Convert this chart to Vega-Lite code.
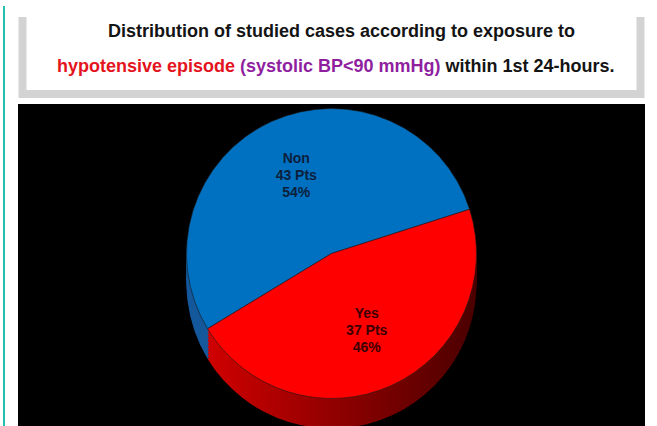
{
  "$schema": "https://vega.github.io/schema/vega-lite/v6.json",
  "background": "white",
  "padding": {"left": 3, "top": 0, "right": 0, "bottom": 0},
  "config": {
    "view": {"stroke": null},
    "font": "Liberation Sans",
    "text": {"font": "Liberation Sans", "fontWeight": "bold"}
  },
  "datasets": {
    "cases": [
      {"group": "Non", "patients": 43},
      {"group": "Yes", "patients": 37}
    ]
  },
  "bounds": "flush",
  "spacing": 13,
  "hconcat": [
    {
      "width": 2,
      "height": 426,
      "view": {"fill": "#22bfae", "stroke": null},
      "data": {"values": [{}]},
      "mark": {"type": "text", "text": ""}
    },
    {
      "bounds": "flush",
      "spacing": 10,
      "center": true,
      "vconcat": [
        {
          "width": 10,
          "height": 1,
          "data": {"values": [{}]},
          "mark": {"type": "text", "text": ""}
        },
        {
          "width": 618,
          "height": 77,
          "view": {"fill": "white", "stroke": "#d3d3d3", "strokeWidth": 8, "strokeDash": [0, 618, 772, 0]},
          "data": {"values": [{}]},
          "layer": [
            {"mark": {"type": "text", "text": "Distribution of studied cases according to exposure to", "fontSize": 18, "align": "center", "baseline": "alphabetic", "dx": 10, "dy": -18.5, "color": "#141414"}},
            {"mark": {"type": "text", "text": "hypotensive episode", "fontSize": 18, "align": "left", "baseline": "alphabetic", "dx": -274.5, "dy": 16.5, "color": "#e4141e"}},
            {"mark": {"type": "text", "text": "(systolic BP<90 mmHg)", "fontSize": 18, "align": "left", "baseline": "alphabetic", "dx": -91.5, "dy": 16.5, "color": "#8f1f9f"}},
            {"mark": {"type": "text", "text": "within 1st 24-hours.", "fontSize": 18, "align": "left", "baseline": "alphabetic", "dx": 114, "dy": 16.5, "color": "#141414"}}
          ]
        },
        {
          "width": 627,
          "height": 327,
          "view": {"fill": "black", "stroke": null},
          "data": {"name": "cases"},
          "transform": [
            {"joinaggregate": [{"op": "sum", "field": "patients", "as": "total"}]},
            {"calculate": "datum.patients + ' Pts'", "as": "count_label"},
            {"calculate": "format(datum.patients / datum.total, '.0%')", "as": "share_label"}
          ],
          "encoding": {
            "theta": {"field": "patients", "type": "quantitative", "stack": true, "scale": {"range": [-2.116, 4.167]}},
            "order": {"field": "group", "type": "ordinal", "sort": "ascending"}
          },
          "layer": [
            {"mark": {"type": "arc", "radius": 145, "yOffset": 16}, "encoding": {"fill": {"condition": {"test": "datum.group === 'Yes'", "value": {"gradient": "linear", "x1": 0, "y1": 0, "x2": 1, "y2": 0, "stops": [{"offset": 0, "color": "#d00000"}, {"offset": 1, "color": "#4a0000"}]}}, "value": "#15599c"}}},
            {"mark": {"type": "arc", "radius": 145, "yOffset": 13}, "encoding": {"fill": {"condition": {"test": "datum.group === 'Yes'", "value": {"gradient": "linear", "x1": 0, "y1": 0, "x2": 1, "y2": 0, "stops": [{"offset": 0, "color": "#d00000"}, {"offset": 1, "color": "#4a0000"}]}}, "value": "#15599c"}}},
            {"mark": {"type": "arc", "radius": 145, "yOffset": 10}, "encoding": {"fill": {"condition": {"test": "datum.group === 'Yes'", "value": {"gradient": "linear", "x1": 0, "y1": 0, "x2": 1, "y2": 0, "stops": [{"offset": 0, "color": "#d00000"}, {"offset": 1, "color": "#4a0000"}]}}, "value": "#15599c"}}},
            {"mark": {"type": "arc", "radius": 145, "yOffset": 7}, "encoding": {"fill": {"condition": {"test": "datum.group === 'Yes'", "value": {"gradient": "linear", "x1": 0, "y1": 0, "x2": 1, "y2": 0, "stops": [{"offset": 0, "color": "#d00000"}, {"offset": 1, "color": "#4a0000"}]}}, "value": "#15599c"}}},
            {"mark": {"type": "arc", "radius": 145, "yOffset": 4}, "encoding": {"fill": {"condition": {"test": "datum.group === 'Yes'", "value": {"gradient": "linear", "x1": 0, "y1": 0, "x2": 1, "y2": 0, "stops": [{"offset": 0, "color": "#d00000"}, {"offset": 1, "color": "#4a0000"}]}}, "value": "#15599c"}}},
            {"mark": {"type": "arc", "radius": 145, "yOffset": 1}, "encoding": {"fill": {"condition": {"test": "datum.group === 'Yes'", "value": {"gradient": "linear", "x1": 0, "y1": 0, "x2": 1, "y2": 0, "stops": [{"offset": 0, "color": "#d00000"}, {"offset": 1, "color": "#4a0000"}]}}, "value": "#15599c"}}},
            {"mark": {"type": "arc", "radius": 145, "yOffset": -2}, "encoding": {"fill": {"condition": {"test": "datum.group === 'Yes'", "value": {"gradient": "linear", "x1": 0, "y1": 0, "x2": 1, "y2": 0, "stops": [{"offset": 0, "color": "#d00000"}, {"offset": 1, "color": "#4a0000"}]}}, "value": "#15599c"}}},
            {"mark": {"type": "arc", "radius": 145, "yOffset": -5}, "encoding": {"fill": {"condition": {"test": "datum.group === 'Yes'", "value": {"gradient": "linear", "x1": 0, "y1": 0, "x2": 1, "y2": 0, "stops": [{"offset": 0, "color": "#d00000"}, {"offset": 1, "color": "#4a0000"}]}}, "value": "#15599c"}}},
            {"mark": {"type": "arc", "radius": 145, "yOffset": -8}, "encoding": {"fill": {"condition": {"test": "datum.group === 'Yes'", "value": {"gradient": "linear", "x1": 0, "y1": 0, "x2": 1, "y2": 0, "stops": [{"offset": 0, "color": "#d00000"}, {"offset": 1, "color": "#4a0000"}]}}, "value": "#15599c"}}},
            {"mark": {"type": "arc", "radius": 145, "yOffset": -11}, "encoding": {"fill": {"condition": {"test": "datum.group === 'Yes'", "value": {"gradient": "linear", "x1": 0, "y1": 0, "x2": 1, "y2": 0, "stops": [{"offset": 0, "color": "#d00000"}, {"offset": 1, "color": "#4a0000"}]}}, "value": "#15599c"}}},
            {
              "mark": {"type": "arc", "radius": 145, "yOffset": -14, "stroke": "#1a1a1a", "strokeWidth": 0.6},
              "encoding": {"color": {"field": "group", "type": "nominal", "scale": {"domain": ["Non", "Yes"], "range": ["#0070c0", "#ff0000"]}, "legend": null}}
            },
            {
              "mark": {"type": "text", "radius": 85, "yOffset": -14, "dy": -17, "fontSize": 14},
              "encoding": {
                "text": {"field": "group"},
                "fill": {"condition": {"test": "datum.group === 'Yes'", "value": "#3b0000"}, "value": "#0c1f3d"}
              }
            },
            {
              "mark": {"type": "text", "radius": 85, "yOffset": -14, "dy": 0, "fontSize": 14},
              "encoding": {
                "text": {"field": "count_label"},
                "fill": {"condition": {"test": "datum.group === 'Yes'", "value": "#3b0000"}, "value": "#0c1f3d"}
              }
            },
            {
              "mark": {"type": "text", "radius": 85, "yOffset": -14, "dy": 17, "fontSize": 14},
              "encoding": {
                "text": {"field": "share_label"},
                "fill": {"condition": {"test": "datum.group === 'Yes'", "value": "#3b0000"}, "value": "#0c1f3d"}
              }
            }
          ]
        }
      ]
    }
  ]
}
